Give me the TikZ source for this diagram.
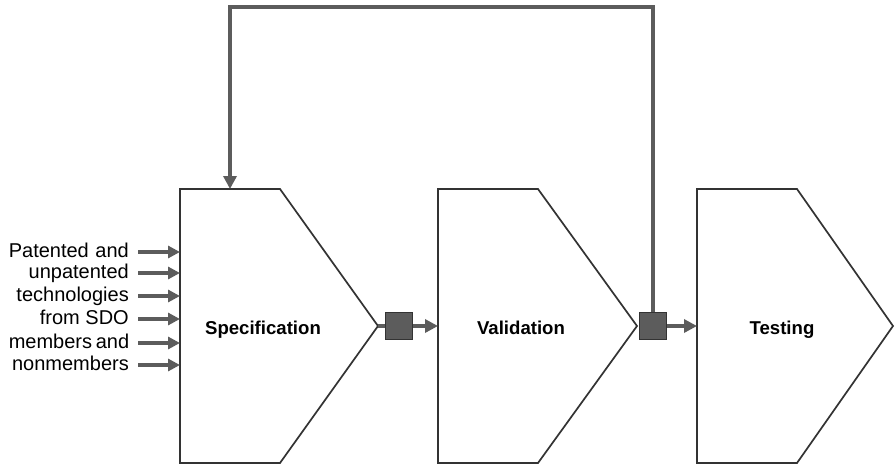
\documentclass[tikz,border=0pt]{standalone}
\usepackage{fontspec}
\setmainfont{Liberation Sans}
\usetikzlibrary{arrows.meta}
\definecolor{edgeGrey}{gray}{0.2}
\definecolor{flowGrey}{gray}{0.36}

\begin{document}
\begin{tikzpicture}[x=1pt,y=-1pt,
    stage/.style={draw=edgeGrey, line width=1.7pt, line join=miter},
    flow/.style={draw=flowGrey, line width=3.8pt, -{Triangle[length=13pt,width=13pt]}},
    feed/.style={draw=flowGrey, line width=3.4pt, -{Triangle[length=12pt,width=12pt]}},
    gate/.style={draw=edgeGrey, fill=flowGrey, line width=1.6pt, minimum size=27pt, inner sep=0pt},
    label/.style={font=\fontsize{18.6}{22}\selectfont\bfseries, inner sep=0pt, anchor=base},
    source/.style={font=\fontsize{20}{23}\selectfont, inner sep=0pt, anchor=base east}]

            \useasboundingbox[fill=white] (0,0) rectangle (895,466);

            % the three stages
            \draw[stage] (180,189) -- (280,189) -- (378,326) -- (280,463) -- (180,463) -- cycle;
            \coordinate (specTip) at (378,326);
            \coordinate (specTop) at (230,189);
            \coordinate (specLeft) at (180,326);
            \node[label] (spec) at (263,334) {Specification};

            \draw[stage] (438,189) -- (538,189) -- (637,326) -- (538,463) -- (438,463) -- cycle;
            \coordinate (validLeft) at (438,326);
            \node[label] (valid) at (521,334) {Validation};

            \draw[stage] (697,189) -- (797,189) -- (893,326) -- (797,463) -- (697,463) -- cycle;
            \coordinate (testLeft) at (697,326);
            \node[label] (test) at (782,334) {Testing};

            % gates between the stages
            \node[gate] (gate1) at (399,326) {};
            \node[gate] (gate2) at (653,326) {};
            \draw[draw=flowGrey, line width=3.8pt] (specTip) -- (gate1.west);
            \draw[flow] (gate1.east) -- (validLeft);
            \draw[flow] (gate2.east) -- (testLeft);

            % feedback loop
            \draw[flow, line join=miter] (gate2.north) -- ++(0,-305) -| (specTop);

            % incoming technologies
            \foreach \i/\y/\txt in {1/252/\makebox[120pt][s]{Patented and}, 2/273/unpatented,
                                    3/296/technologies, 4/319/from SDO,
                                    5/343/\makebox[120pt][s]{members and}, 6/365/nonmembers} {
                \node[source] (src\i) at (129,\y+5) {\txt};
                \coordinate (tail\i) at (138,\y);
                \draw[feed] (tail\i) -- (tail\i -| specLeft);
            }

\end{tikzpicture}
\end{document}
